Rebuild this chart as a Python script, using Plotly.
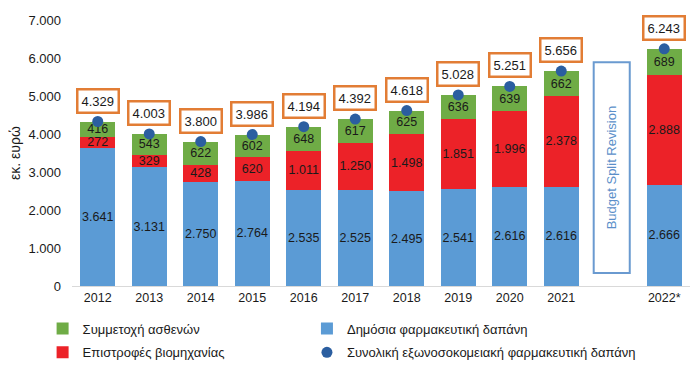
import plotly.graph_objects as go

years = ["2012", "2013", "2014", "2015", "2016", "2017", "2018", "2019", "2020", "2021", "", "2022*"]
public = [3641, 3131, 2750, 2764, 2535, 2525, 2495, 2541, 2616, 2616, None, 2666]
rebates = [272, 329, 428, 620, 1011, 1250, 1498, 1851, 1996, 2378, None, 2888]
copay = [416, 543, 622, 602, 648, 617, 625, 636, 639, 662, None, 689]
totals = [4329, 4003, 3800, 3986, 4194, 4392, 4618, 5028, 5251, 5656, None, 6243]
y_ticks = [0, 1000, 2000, 3000, 4000, 5000, 6000, 7000]

xpos = list(range(len(years)))

BLUE = "#5B9BD5"
RED = "#EC2228"
GREEN = "#6FAC46"
DOT = "#2B5EA0"
ORANGE = "#E27D35"
TXT = "#1a1a1a"

fig = go.Figure()
common = dict(width=0.68, textposition="inside", insidetextanchor="middle",
              textangle=0, constraintext="none", texttemplate="%{y:,d}",
              textfont=dict(family="Liberation Sans, Arial", size=12.5, color=TXT),
              hoverinfo="skip")
fig.add_trace(go.Bar(x=xpos, y=public, name="Δημόσια φαρμακευτική δαπάνη",
                     marker=dict(color=BLUE, line=dict(width=0)), legend="legend2",
                     legendgroup="b", legendrank=1, **common))
fig.add_trace(go.Bar(x=xpos, y=rebates, name="Επιστροφές βιομηχανίας",
                     marker=dict(color=RED, line=dict(width=0)), legend="legend",
                     legendgroup="r", legendrank=2, **common))
fig.add_trace(go.Bar(x=xpos, y=copay, name="Συμμετοχή ασθενών",
                     marker=dict(color=GREEN, line=dict(width=0)), legend="legend",
                     legendgroup="g", legendrank=1, **common))
fig.add_trace(go.Scatter(x=xpos, y=totals, mode="markers",
                         name="Συνολική εξωνοσοκομειακή φαρμακευτική δαπάνη",
                         marker=dict(color=DOT, size=11), legend="legend2",
                         legendgroup="d", legendrank=2, hoverinfo="skip"))

for xi, t in zip(xpos, totals):
    if t is None:
        continue
    fig.add_annotation(x=xi, y=t, text=f"{t:,}".replace(",", "."), showarrow=False,
                       yshift=21, bordercolor=ORANGE, borderwidth=2.5, borderpad=3,
                       bgcolor="white",
                       font=dict(family="Liberation Sans, Arial", size=13, color=TXT))

# Budget split revision box in the gap slot
gap = years.index("")
fig.add_shape(type="rect", x0=gap - 0.37, x1=gap + 0.33, y0=340, y1=5890,
              line=dict(color="#6A9AD0", width=2), fillcolor="white", layer="above")
fig.add_annotation(x=gap - 0.02, y=3115, text="Budget Split Revision", textangle=-90,
                   showarrow=False,
                   font=dict(family="Liberation Sans, Arial", size=13, color="#5B8FC9"))

# y-axis title
fig.add_annotation(xref="paper", yref="paper", x=0, y=0.5, xshift=-57,
                   text="εκ. ευρώ", textangle=-90, showarrow=False,
                   xanchor="center", yanchor="middle",
                   font=dict(family="Liberation Sans, Arial", size=14, color=TXT))

leg_common = dict(orientation="v", xref="container", yref="container",
                  xanchor="left", yanchor="top", traceorder="grouped",
                  tracegroupgap=4, font=dict(size=13, color=TXT),
                  itemwidth=30, bgcolor="rgba(0,0,0,0)")

fig.update_layout(
    width=692, height=365,
    barmode="stack", bargap=0.32,
    separators=",.",
    plot_bgcolor="white", paper_bgcolor="white",
    margin=dict(l=64, r=10, t=12, b=87, autoexpand=False),
    font=dict(family="Liberation Sans, Arial", size=13, color=TXT),
    xaxis=dict(tickmode="array", tickvals=xpos, ticktext=years, range=[-0.5, 11.5],
               showline=True, linecolor="#d9d9d9", linewidth=1, ticks="",
               showgrid=False, zeroline=False, automargin=False,
               tickfont=dict(size=12.5, color=TXT)),
    yaxis=dict(range=[0, 7000], tickvals=y_ticks, tickformat=",d", showgrid=False,
               zeroline=False, showline=False, ticks="", ticklabelstandoff=10,
               automargin=False,
               tickfont=dict(size=13, color=TXT)),
    legend=dict(x=0.05, y=0.163, **leg_common),
    legend2=dict(x=0.432, y=0.163, **leg_common),
    showlegend=True,
)

fig.write_html("out.html")
